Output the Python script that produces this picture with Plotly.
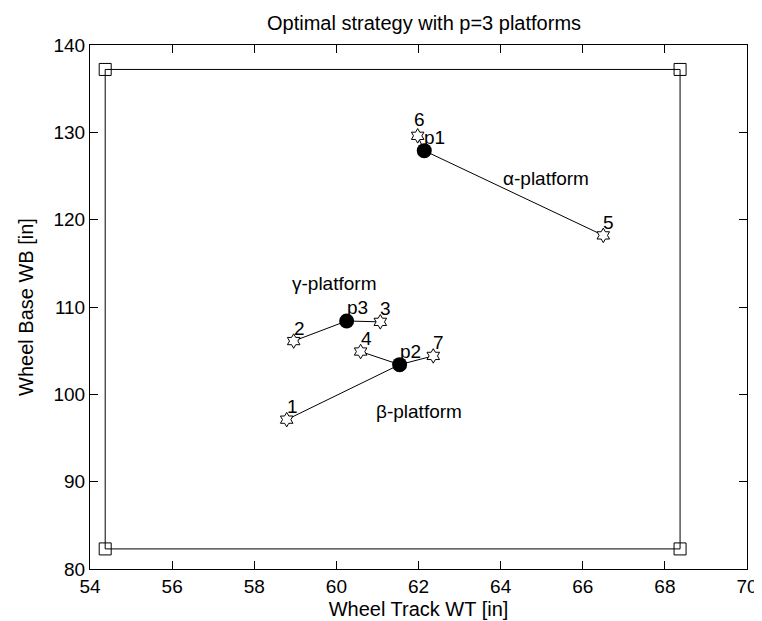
import plotly.graph_objects as go

# Design points (wheel track, wheel base)
point_ids = ["1", "2", "3", "4", "5", "6", "7"]
point_wt = [58.79, 58.96, 61.07, 60.59, 66.50, 61.98, 62.36]
point_wb = [97.1, 106.1, 108.3, 104.9, 118.2, 129.6, 104.4]

# Platforms
platform_ids = ["p1", "p2", "p3"]
platform_wt = [62.14, 61.54, 60.25]
platform_wb = [127.9, 103.4, 108.4]

# Assignment of design points to platforms
assignment = {"p1": ["5", "6"], "p2": ["1", "4", "7"], "p3": ["2", "3"]}

# Platform name labels
platform_names = ["α-platform", "β-platform", "γ-platform"]
platform_name_wt = [65.1, 62.0, 59.95]
platform_name_wb = [124.7, 98.0, 112.7]

# Design space bounds
bound_wt = [54.37, 68.37]
bound_wb = [82.3, 137.2]

x_ticks = [54, 56, 58, 60, 62, 64, 66, 68, 70]
y_ticks = [80, 90, 100, 110, 120, 130, 140]

FONT = "Liberation Sans, Arial, Helvetica, sans-serif"
FS_TICK = 19
FS_TEXT = 19
FS_TITLE = 20

fig = go.Figure()

# Bounding rectangle
rx = [bound_wt[0], bound_wt[1], bound_wt[1], bound_wt[0], bound_wt[0]]
ry = [bound_wb[0], bound_wb[0], bound_wb[1], bound_wb[1], bound_wb[0]]
fig.add_trace(go.Scatter(x=rx, y=ry, mode="lines", line=dict(color="black", width=1),
                         showlegend=False, hoverinfo="skip"))
fig.add_trace(go.Scatter(x=rx[:4], y=ry[:4], mode="markers",
                         marker=dict(symbol="square-open", size=12, color="black",
                                     line=dict(width=1)),
                         showlegend=False, hoverinfo="skip"))

# Connection lines
for pid, pwt, pwb in zip(platform_ids, platform_wt, platform_wb):
    for m in assignment[pid]:
        i = point_ids.index(m)
        fig.add_trace(go.Scatter(x=[pwt, point_wt[i]], y=[pwb, point_wb[i]], mode="lines",
                                 line=dict(color="black", width=1),
                                 showlegend=False, hoverinfo="skip"))

# Design points (hexagrams)
fig.add_trace(go.Scatter(x=point_wt, y=point_wb, mode="markers",
                         marker=dict(symbol="hexagram", size=11, color="white",
                                     line=dict(color="black", width=1)),
                         showlegend=False))

# Platforms (filled circles)
fig.add_trace(go.Scatter(x=platform_wt, y=platform_wb, mode="markers",
                         marker=dict(symbol="circle", size=15, color="black"),
                         showlegend=False))

# small pixel nudges to keep crowded labels apart
nudge = {"6": (-6, 16)}

annotations = []
for lab, x, y in zip(point_ids + platform_ids, point_wt + platform_wt, point_wb + platform_wb):
    dx, dy = nudge.get(lab, (-2, 13))
    annotations.append(dict(x=x, y=y, xref="x", yref="y", text=lab, showarrow=False,
                            xanchor="left", yanchor="middle", xshift=dx, yshift=dy,
                            font=dict(family=FONT, size=FS_TEXT, color="black")))
for lab, x, y in zip(platform_names, platform_name_wt, platform_name_wb):
    annotations.append(dict(x=x, y=y, xref="x", yref="y", text=lab, showarrow=False,
                            xanchor="center", yanchor="middle",
                            font=dict(family=FONT, size=FS_TEXT, color="black")))

axis_common = dict(showline=True, linecolor="black", linewidth=1, mirror="ticks",
                   ticks="inside", ticklen=8, tickcolor="black", showgrid=False,
                   zeroline=False, tickfont=dict(family=FONT, size=FS_TICK, color="black"))

fig.update_layout(
    width=762, height=621,
    margin=dict(l=82, r=12, t=37, b=58),
    paper_bgcolor="white", plot_bgcolor="white",
    title=dict(text="Optimal strategy with p=3 platforms", x=0.546, xanchor="center",
               y=1 - 15 / 621, yanchor="middle", yref="container",
               font=dict(family=FONT, size=FS_TITLE, color="black")),
    xaxis=dict(range=[54, 70], tickvals=x_ticks, ticktext=[str(v) for v in x_ticks],
               title=dict(text="Wheel Track WT [in]", standoff=6,
                          font=dict(family=FONT, size=FS_TITLE, color="black")),
               **axis_common),
    yaxis=dict(range=[80, 140], tickvals=y_ticks, ticktext=[str(v) for v in y_ticks],
               title=dict(text="Wheel Base WB [in]", standoff=14,
                          font=dict(family=FONT, size=FS_TITLE, color="black")),
               **axis_common),
    annotations=annotations,
)

fig.write_html("out.html")
